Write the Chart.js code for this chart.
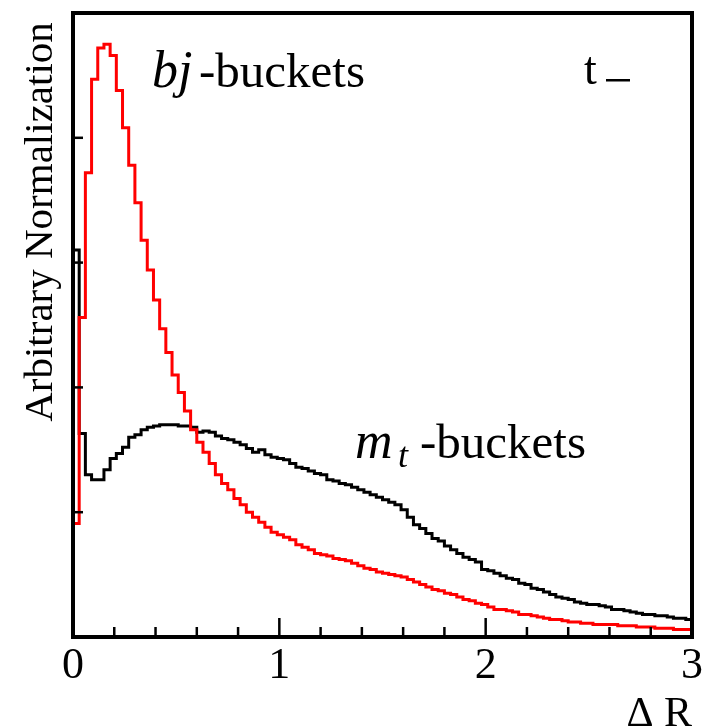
<!DOCTYPE html>
<html>
<head>
<meta charset="utf-8">
<script src="https://cdn.jsdelivr.net/npm/chart.js@4.4.0/dist/chart.umd.min.js"></script>
<style>
  html, body { margin: 0; padding: 0; background: #fff; }
  #wrap { width: 703px; height: 727px; }
</style>
</head>
<body>
<div id="wrap"><canvas id="myChart" width="703" height="727"></canvas></div>
<script>
// histogram binning: 100 bins from 0 to 3
var binWidth = 0.03;
var xTickLabels = ['0', '1', '2', '3'];

// bj-buckets (red)
var bjValues = [
  0.91, 2.56, 3.72, 4.47, 4.72, 4.75, 4.66, 4.38, 4.08, 3.78,
  3.48, 3.18, 2.94, 2.70, 2.47, 2.28, 2.10, 1.96, 1.81, 1.66,
  1.56, 1.48, 1.39, 1.30, 1.23, 1.18, 1.11, 1.06, 1.00, 0.96,
  0.92, 0.88, 0.84, 0.82, 0.80, 0.78, 0.74, 0.72, 0.70, 0.67,
  0.66, 0.65, 0.63, 0.62, 0.61, 0.59, 0.57, 0.55, 0.54, 0.52,
  0.51, 0.50, 0.49, 0.48, 0.46, 0.44, 0.42, 0.40, 0.38, 0.37,
  0.35, 0.34, 0.32, 0.30, 0.29, 0.27, 0.26, 0.24, 0.22, 0.22,
  0.21, 0.20, 0.18, 0.18, 0.17, 0.16, 0.15, 0.14, 0.14, 0.13,
  0.12, 0.12, 0.11, 0.11, 0.10, 0.10, 0.10, 0.10, 0.09, 0.09,
  0.09, 0.08, 0.08, 0.08, 0.07, 0.07, 0.07, 0.06, 0.06, 0.06
];

// mt-buckets (black)
var mtValues = [
  3.10, 1.63, 1.30, 1.26, 1.26, 1.34, 1.43, 1.47, 1.52, 1.60,
  1.62, 1.66, 1.68, 1.69, 1.70, 1.70, 1.70, 1.69, 1.69, 1.68,
  1.64, 1.65, 1.64, 1.61, 1.59, 1.58, 1.56, 1.54, 1.51, 1.48,
  1.50, 1.46, 1.44, 1.43, 1.42, 1.39, 1.36, 1.35, 1.33, 1.31,
  1.30, 1.26, 1.25, 1.23, 1.22, 1.20, 1.18, 1.16, 1.14, 1.12,
  1.10, 1.08, 1.06, 1.02, 0.96, 0.90, 0.87, 0.83, 0.79, 0.77,
  0.73, 0.70, 0.67, 0.64, 0.62, 0.60, 0.54, 0.53, 0.51, 0.49,
  0.47, 0.46, 0.43, 0.42, 0.39, 0.38, 0.36, 0.34, 0.32, 0.31,
  0.30, 0.28, 0.27, 0.26, 0.26, 0.25, 0.24, 0.22, 0.22, 0.21,
  0.20, 0.19, 0.18, 0.18, 0.17, 0.17, 0.16, 0.15, 0.15, 0.14
];

// turn bin contents into step points (left edge of each bin + closing edge)
function toSteps(values) {
  var pts = [{ x: 0, y: 0 }];
  values.forEach(function(v, i) { pts.push({ x: i * binWidth, y: v }); });
  pts.push({ x: values.length * binWidth, y: values[values.length - 1] });
  return pts;
}

var serif = '"Liberation Serif", "DejaVu Serif", serif';

// frame, inward ticks and texts
var framePlugin = {
  id: 'frame',
  afterDraw: function(chart) {
    var c = chart.ctx, a = chart.chartArea;
    var xs = chart.scales.x, ys = chart.scales.y;
    c.save();
    c.strokeStyle = '#000';
    c.lineWidth = 4;
    c.strokeRect(a.left, a.top, a.right - a.left, a.bottom - a.top);

    // x ticks: major at integers, minor every 0.2
    c.lineWidth = 2.5;
    for (var k = 0; k <= 15; k++) {
      var v = k * 0.2;
      var px = xs.getPixelForValue(v);
      var len = (k % 5 === 0) ? 19 : 10;
      c.beginPath();
      c.moveTo(px, a.bottom);
      c.lineTo(px, a.bottom - len);
      c.stroke();
    }
    // y ticks
    for (var j = 1; j <= 4; j++) {
      var py = ys.getPixelForValue(j);
      c.beginPath();
      c.moveTo(a.left, py);
      c.lineTo(a.left + 10, py);
      c.stroke();
    }

    c.fillStyle = '#000';
    c.font = '44px ' + serif;
    c.textAlign = 'center';
    c.textBaseline = 'alphabetic';
    xTickLabels.forEach(function(t, i) {
      c.fillText(t, xs.getPixelForValue(i), 678);
    });

    c.font = '42px ' + serif;
    c.textAlign = 'right';
    c.fillText('\u0394 R', a.right, 726);

    // y title
    c.save();
    c.translate(52, 222);
    c.rotate(-Math.PI / 2);
    c.textAlign = 'center';
    c.font = '41px ' + serif;
    c.fillText('Arbitrary Normalization', 0, 0);
    c.restore();

    // series labels
    c.textAlign = 'left';
    c.font = 'italic 52px ' + serif;
    c.fillText('bj', 152, 87);
    c.font = '49px ' + serif;
    c.fillText('-buckets', 199, 87);

    c.font = 'italic 52px ' + serif;
    c.fillText('m', 355, 458);
    c.font = 'italic 36px ' + serif;
    c.fillText('t', 398, 467);
    c.font = '49px ' + serif;
    c.fillText('-buckets', 420, 458);

    c.font = '46px ' + serif;
    c.fillText('t', 584, 84);
    c.fillRect(606, 79, 24, 2.5);
    c.restore();
  }
};

var ctx = document.getElementById('myChart').getContext('2d');
var myChart = new Chart(ctx, {
  type: 'line',
  data: {
    datasets: [{
      label: 'bj-buckets',
      data: toSteps(bjValues),
      borderColor: '#ff0000',
      borderWidth: 3,
      stepped: 'before',
      pointRadius: 0,
      fill: false
    }, {
      label: 'mt-buckets',
      data: toSteps(mtValues),
      borderColor: '#000000',
      borderWidth: 3,
      stepped: 'before',
      pointRadius: 0,
      fill: false
    }]
  },
  options: {
    responsive: false,
    animation: false,
    layout: { padding: { left: 73, right: 11, top: 13, bottom: 90 } },
    plugins: { legend: { display: false }, tooltip: { enabled: false } },
    scales: {
      x: { type: 'linear', min: 0, max: 3, display: false },
      y: { type: 'linear', min: 0, max: 5, display: false }
    }
  },
  plugins: [framePlugin]
});
</script>
</body>
</html>
